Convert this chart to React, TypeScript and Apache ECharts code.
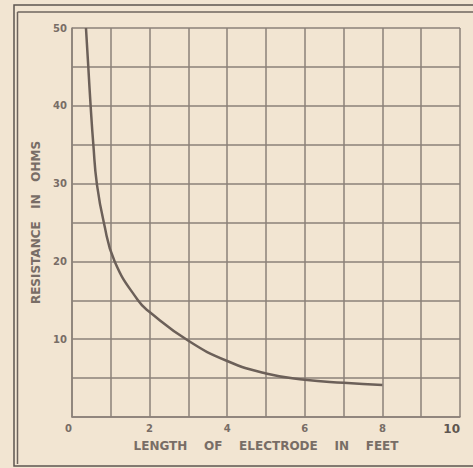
import React, { useEffect, useRef } from "react";
import * as echarts from "echarts";

const lengthFeet = [0.36, 0.42, 0.48, 0.55, 0.64, 0.82, 1.1, 1.7, 2, 3, 4, 5, 6, 7, 8];
const resistanceOhms = [50, 45, 40, 35, 30, 25, 20, 15, 13.5, 9.8, 7.2, 5.6, 4.8, 4.4, 4.1];
const xTicks = [0, 2, 4, 6, 8, 10];
const yTicks = [0, 10, 20, 30, 40, 50];

const BG = "#f2e5d2";
const GRIDC = "#8b8079";
const TXT = "#786d66";
const FONT = "DejaVu Sans";

export default function App() {
  const ref = useRef<HTMLDivElement>(null);
  useEffect(() => {
    if (!ref.current) return;
    const chart = echarts.init(ref.current, null, { renderer: "svg" });
    const data = lengthFeet.map((x, i) => [x, resistanceOhms[i]]);
    chart.setOption({
      animation: false,
      backgroundColor: BG,
      grid: { left: 72, top: 28, right: 13, bottom: 51 },
      xAxis: {
        type: "value",
        min: 0,
        max: 10,
        interval: 1,
        name: "LENGTH    OF    ELECTRODE    IN    FEET",
        nameLocation: "middle",
        nameGap: 20,
        nameTextStyle: { fontFamily: FONT, fontSize: 12, fontWeight: "bold", color: TXT },
        axisLine: { show: true, lineStyle: { color: GRIDC, width: 1.5 } },
        axisTick: { show: false },
        splitLine: { show: true, lineStyle: { color: GRIDC, width: 1.5 } },
        axisLabel: {
          margin: 6,
          fontFamily: FONT,
          fontSize: 10,
          fontWeight: "bold",
          color: TXT,
          alignMinLabel: "right",
          alignMaxLabel: "right",
          formatter: (v: number) => {
            if (!xTicks.includes(v)) return "";
            return v === 10 ? "{b|10}" : String(v);
          },
          rich: { b: { fontFamily: FONT, fontSize: 12, fontWeight: "bold", color: "#5f5650" } },
        },
      },
      yAxis: {
        type: "value",
        min: 0,
        max: 50,
        interval: 5,
        name: "RESISTANCE   IN   OHMS",
        nameLocation: "middle",
        nameGap: 29,
        nameTextStyle: { fontFamily: FONT, fontSize: 12, fontWeight: "bold", color: TXT },
        axisLine: { show: true, lineStyle: { color: GRIDC, width: 1.5 } },
        axisTick: { show: false },
        splitLine: { show: true, lineStyle: { color: GRIDC, width: 1.5 } },
        axisLabel: {
          margin: 5,
          showMinLabel: false,
          fontFamily: FONT,
          fontSize: 10,
          fontWeight: "bold",
          color: TXT,
          formatter: (v: number) => (yTicks.includes(v) && v !== 0 ? String(v) : ""),
        },
      },
      series: [
        {
          type: "line",
          data,
          smooth: 0.5,
          showSymbol: false,
          lineStyle: { color: "#6c6059", width: 2.5 },
        },
      ],
      graphic: [
        { type: "rect", shape: { x: 14, y: 5, width: 480, height: 461 }, style: { fill: "none", stroke: "#5e5550", lineWidth: 1.5 } },
        { type: "line", shape: { x1: 17.5, y1: 12, x2: 480, y2: 12 }, style: { stroke: "#6e645e", lineWidth: 1.5 } },
        { type: "line", shape: { x1: 17.5, y1: 12, x2: 17.5, y2: 464 }, style: { stroke: "#6e645e", lineWidth: 1.5 } },
      ],
    });
    return () => chart.dispose();
  }, []);
  return (
    <div
      ref={ref}
      style={{ position: "fixed", left: 0, top: 0, width: 473, height: 468 }}
    />
  );
}
